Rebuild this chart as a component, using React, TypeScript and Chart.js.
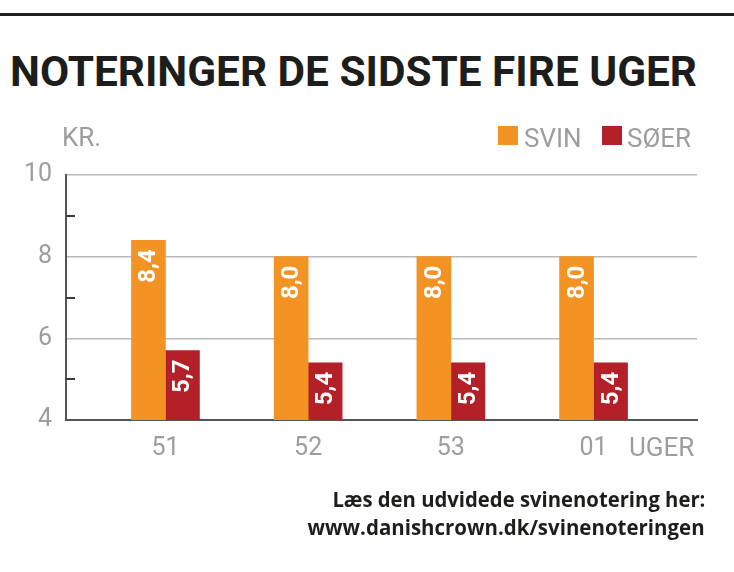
import React, { useEffect, useLayoutEffect, useRef } from "react";
import { Chart, registerables } from "chart.js";

Chart.register(...registerables);

const weeks = ["51", "52", "53", "01"];
const svin = [8.4, 8.0, 8.0, 8.0];
const soer = [5.7, 5.4, 5.4, 5.4];
const seriesNames = ["SVIN", "SØER"];
const seriesColors = ["#F39324", "#B42027"];
const yMin = 4;
const yMax = 10;

const GRAY = "#9d9d9d";
const DARK = "#1d1d1b";

function FitText(props: { text: string; width: number; align?: "left" | "right"; style: React.CSSProperties }) {
  const ref = useRef<HTMLSpanElement>(null);
  useLayoutEffect(() => {
    const el = ref.current;
    if (!el) return;
    const fit = () => {
      el.style.transform = "none";
      const w = el.getBoundingClientRect().width;
      if (w > 0) el.style.transform = `scaleX(${props.width / w})`;
    };
    fit();
    if ((document as any).fonts && (document as any).fonts.ready) {
      (document as any).fonts.ready.then(fit);
    }
  }, [props.text, props.width]);
  return (
    <span
      ref={ref}
      style={{
        display: "inline-block",
        whiteSpace: "nowrap",
        transformOrigin: props.align === "right" ? "right top" : "left top",
        ...props.style,
      }}
    >
      {props.text}
    </span>
  );
}

const minorTicksPlugin = {
  id: "minorTicks",
  afterDraw(chart: any) {
    const y = chart.scales.y;
    const left = chart.chartArea.left;
    const ctx = chart.ctx;
    ctx.save();
    ctx.strokeStyle = "#3a3a3a";
    ctx.lineWidth = 2;
    y.ticks.forEach((t: any) => {
      if (t.value % 2 !== 0) {
        const py = Math.round(y.getPixelForValue(t.value));
        ctx.beginPath();
        ctx.moveTo(left, py);
        ctx.lineTo(left + 9, py);
        ctx.stroke();
      }
    });
    ctx.restore();
  },
};

const valueLabelPlugin = {
  id: "valueLabels",
  afterDatasetsDraw(chart: any) {
    const ctx = chart.ctx;
    chart.data.datasets.forEach((ds: any, di: number) => {
      const meta = chart.getDatasetMeta(di);
      meta.data.forEach((el: any, i: number) => {
        const v = ds.data[i].y;
        const txt = v.toFixed(1).replace(".", ",");
        ctx.save();
        ctx.translate(el.x, el.y + 9);
        ctx.rotate(-Math.PI / 2);
        ctx.fillStyle = "#ffffff";
        ctx.font = "700 24px Roboto, 'DejaVu Sans', sans-serif";
        ctx.textAlign = "right";
        ctx.textBaseline = "middle";
        ctx.fillText(txt, 0, 1);
        ctx.restore();
      });
    });
  },
};

export default function App() {
  const canvasRef = useRef<HTMLCanvasElement>(null);

  useEffect(() => {
    const canvas = canvasRef.current;
    if (!canvas) return;
    const chart = new Chart(canvas, {
      type: "bar",
      data: {
        datasets: [
          {
            label: seriesNames[0],
            data: weeks.map((_, i) => ({ x: i, y: svin[i] })),
            backgroundColor: seriesColors[0],
            barThickness: 34,
          },
          {
            label: seriesNames[1],
            data: weeks.map((_, i) => ({ x: i, y: soer[i] })),
            backgroundColor: seriesColors[1],
            barThickness: 34,
          },
        ],
      },
      options: {
        animation: false,
        responsive: false,
        maintainAspectRatio: false,
        devicePixelRatio: 1,
        layout: { padding: { top: 175, right: 37, left: 0, bottom: 0 } },
        plugins: { legend: { display: false }, tooltip: { enabled: false } },
        scales: {
          x: {
            type: "linear",
            offset: false,
            min: -0.697,
            max: 3.725,
            afterBuildTicks: (s: any) => {
              s.ticks = weeks.map((_, i) => ({ value: i }));
            },
            afterFit: (s: any) => {
              s.height = 152;
            },
            grid: { display: false, drawTicks: false },
            border: { display: true, color: "#555555", width: 2 },
            ticks: {
              padding: 14,
              color: GRAY,
              font: { family: "Roboto", size: 25, weight: "400" },
              callback: (v: any) => weeks[v as number] ?? "",
              maxRotation: 0,
              autoSkip: false,
            },
          },
          y: {
            min: yMin,
            max: yMax,
            afterFit: (s: any) => {
              s.width = 66;
            },
            grid: {
              drawTicks: false,
              lineWidth: 1.5,
              color: (c: any) =>
                c.tick && c.tick.value % 2 === 0 && c.tick.value !== yMin ? "#b9b9b9" : "rgba(0,0,0,0)",
            },
            border: { display: true, color: "#555555", width: 2 },
            ticks: {
              stepSize: 1,
              padding: 14,
              color: GRAY,
              font: { family: "Roboto", size: 25, weight: "400" },
              callback: (v: any) => ((v as number) % 2 === 0 ? String(v) : ""),
            },
          },
        },
      } as any,
      plugins: [minorTicksPlugin, valueLabelPlugin],
    });
    return () => chart.destroy();
  }, []);

  const grayText: React.CSSProperties = {
    position: "absolute",
    fontFamily: "Roboto, sans-serif",
    fontSize: 26,
    lineHeight: 1,
    color: GRAY,
    whiteSpace: "nowrap",
  };

  return (
    <div
      style={{
        position: "absolute",
        left: 0,
        top: 0,
        width: 734,
        height: 572,
        background: "#ffffff",
        overflow: "hidden",
      }}
    >
      <div style={{ position: "absolute", left: 0, top: 13, width: 734, height: 3, background: "#222222" }} />
      <div style={{ position: "absolute", left: 10, top: 51, lineHeight: 1 }}>
        <FitText
          text="NOTERINGER DE SIDSTE FIRE UGER"
          width={687}
          style={{
            fontFamily: "Roboto, 'DejaVu Sans', sans-serif",
            fontWeight: 700,
            fontSize: 42,
            lineHeight: 1,
            color: DARK,
          }}
        />
      </div>
      <canvas ref={canvasRef} width={734} height={572} style={{ position: "absolute", left: 0, top: 0 }} />
      <div style={{ ...grayText, left: 62, top: 124 }}>KR.</div>
      <div style={{ position: "absolute", left: 498, top: 126, width: 20, height: 19, background: seriesColors[0] }} />
      <div style={{ ...grayText, left: 524, top: 125 }}>{seriesNames[0]}</div>
      <div style={{ position: "absolute", left: 602, top: 126, width: 20, height: 19, background: seriesColors[1] }} />
      <div style={{ ...grayText, left: 627, top: 125 }}>{seriesNames[1]}</div>
      <div style={{ ...grayText, left: 629, top: 434 }}>UGER</div>
      <div style={{ position: "absolute", right: 29, top: 489, lineHeight: 1 }}>
        <FitText
          text="Læs den udvidede svinenotering her:"
          width={373}
          align="right"
          style={{ fontFamily: "'Open Sans', sans-serif", fontWeight: 700, fontSize: 21, lineHeight: 1, color: DARK }}
        />
      </div>
      <div style={{ position: "absolute", right: 29, top: 517, lineHeight: 1 }}>
        <FitText
          text="www.danishcrown.dk/svinenoteringen"
          width={397}
          align="right"
          style={{ fontFamily: "'Open Sans', sans-serif", fontWeight: 700, fontSize: 21, lineHeight: 1, color: DARK }}
        />
      </div>
    </div>
  );
}
